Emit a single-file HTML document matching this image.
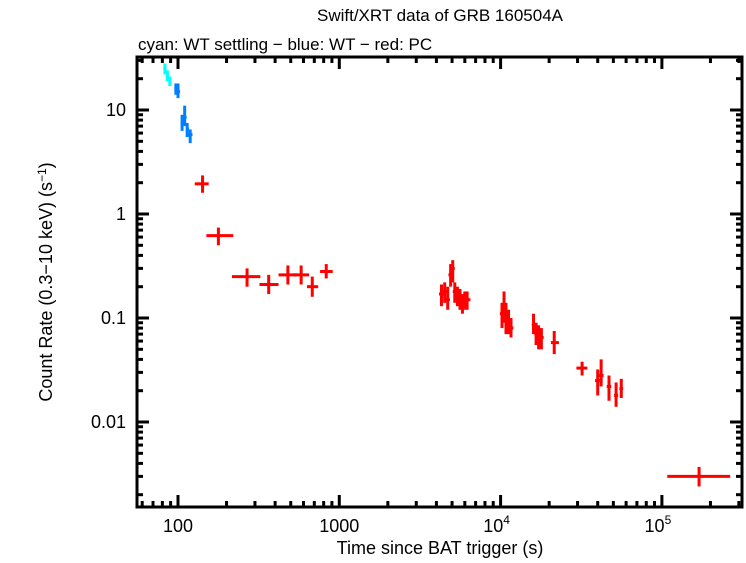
<!DOCTYPE html>
<html><head><meta charset="utf-8"><style>
body{margin:0;background:#fff}
svg text{font-family:"Liberation Sans",sans-serif;fill:#000}
</style></head><body>
<svg id="c" width="746" height="558">
<text x="440" y="21" font-size="17" text-anchor="middle">Swift/XRT data of GRB 160504A</text>
<text x="138" y="50" font-size="17">cyan: WT settling − blue: WT − red: PC</text>
<text x="440" y="554" font-size="18" text-anchor="middle">Time since BAT trigger (s)</text>
<text transform="translate(52,282) rotate(-90)" font-size="18" text-anchor="middle">Count Rate (0.3−10 keV) (s<tspan dy="-6" font-size="12">−1</tspan><tspan dy="6">)</tspan></text>
<g id="marks"></g>
<g id="axes"></g>
</svg>
<script>
// data: [t, tlo, thi, rate, rlo, rhi]
const cyanData=[[83,81,85,25,22,28],[86,85,88,21,19,24],[89,88,91,19,17,21]];
const blueData=[[97,95,99,16,14,18],[100,98,103,15,13,18],[106,104,108,7.5,6.3,9],[110,107,113,8.5,7,11],[114,112,117,6.5,5.5,7.5],[119,116,123,5.8,4.8,6.5]];
const redData=[[142,127,155,1.95,1.6,2.35],[178,150,220,0.62,0.5,0.74],[268,216,324,0.25,0.2,0.3],[365,320,420,0.21,0.17,0.26],[480,420,545,0.26,0.21,0.32],[580,520,650,0.26,0.21,0.32],[680,630,740,0.2,0.16,0.25],[830,760,910,0.28,0.24,0.33],
[4300,4150,4450,0.17,0.13,0.21],[4500,4350,4650,0.18,0.14,0.22],[4700,4550,4850,0.15,0.12,0.2],[4900,4750,5050,0.26,0.2,0.33],[5050,4900,5200,0.3,0.22,0.36],[5200,5050,5400,0.18,0.14,0.22],[5400,5250,5600,0.16,0.13,0.2],[5600,5450,5800,0.15,0.12,0.19],[5800,5650,6000,0.14,0.11,0.17],[6000,5850,6200,0.15,0.12,0.18],[6200,6050,6500,0.15,0.12,0.18],
[10200,9900,10500,0.11,0.08,0.14],[10500,10200,10800,0.13,0.09,0.18],[10800,10500,11100,0.1,0.07,0.14],[11200,10900,11500,0.09,0.07,0.12],[11600,11300,12000,0.08,0.065,0.1],
[16000,15600,16400,0.085,0.07,0.11],[16600,16200,17000,0.07,0.055,0.09],[17200,16800,17600,0.065,0.05,0.085],[17900,17500,18500,0.065,0.05,0.08],
[21500,20500,23000,0.058,0.045,0.075],
[32000,29500,34500,0.033,0.028,0.038],
[40000,38500,41500,0.025,0.018,0.032],[42000,40500,43500,0.028,0.022,0.04],[47000,45500,48500,0.022,0.016,0.028],[52000,50500,53500,0.018,0.014,0.024],[56000,54500,57500,0.021,0.017,0.026],
[170000,108000,265000,0.003,0.0024,0.0037]];
const yTickVals=[10,1,0.1,0.01];
const yTickLabels=["10","1","0.1","0.01"];
const L=137,R=742,T=57,B=507;
const xs=t=>178+161.3*(Math.log10(t)-2);
const ys=v=>214-104*Math.log10(v);
const NS="http://www.w3.org/2000/svg";
function mk(tag,attrs,parent){const e=document.createElementNS(NS,tag);for(const k in attrs)e.setAttribute(k,attrs[k]);parent.appendChild(e);return e;}
const marks=document.getElementById('marks');
function series(data,color,name){
  data.forEach((d,i)=>{
    const g=mk('g',{stroke:color,'stroke-width':3},marks);
    
    
    mk('line',{x1:xs(d[1]),x2:xs(d[2]),y1:ys(d[3]),y2:ys(d[3])},g);
    mk('line',{x1:xs(d[0]),x2:xs(d[0]),y1:ys(d[4]),y2:ys(d[5])},g);
  });
}
series(cyanData,'#00ffff','wt-settling');
series(blueData,'#0080ff','wt');
series(redData,'#ff0000','pc');
const ax=document.getElementById('axes');
const fr=mk('rect',{x:L,y:T,width:R-L,height:B-T,fill:'none',stroke:'#000','stroke-width':3},ax);


for(let e=1;e<=5;e++)for(let m=1;m<10;m++){
  const t=m*Math.pow(10,e),x=xs(t);if(x<L||x>R)continue;
  const len=m==1?12:6;
  mk('line',{x1:x,x2:x,y1:B,y2:B-len,stroke:'#000','stroke-width':3},ax);
  mk('line',{x1:x,x2:x,y1:T,y2:T+len,stroke:'#000','stroke-width':3},ax);
}
[[100,"100"],[1000,"1000"]].forEach(([t,s])=>{const tx=mk('text',{x:xs(t),y:532,'font-size':18,'text-anchor':'middle'},ax);tx.textContent=s;
});
[4,5].forEach(e=>{const tx=mk('text',{x:xs(Math.pow(10,e))-4,y:532,'font-size':18,'text-anchor':'middle'},ax);tx.textContent="10";
const sp=mk('tspan',{dy:-8,'font-size':12},tx);sp.textContent=String(e);
});
for(let e=-3;e<=1;e++)for(let m=1;m<10;m++){
  const v=m*Math.pow(10,e),y=ys(v);if(y<T||y>B)continue;
  const len=m==1?12:6;
  mk('line',{x1:L,x2:L+len,y1:y,y2:y,stroke:'#000','stroke-width':3},ax);
  mk('line',{x1:R,x2:R-len,y1:y,y2:y,stroke:'#000','stroke-width':3},ax);
}
yTickVals.forEach((v,i)=>{const tx=mk('text',{x:126,y:ys(v)+6,'font-size':18,'text-anchor':'end'},ax);tx.textContent=yTickLabels[i];
});
</script>
</body></html>
